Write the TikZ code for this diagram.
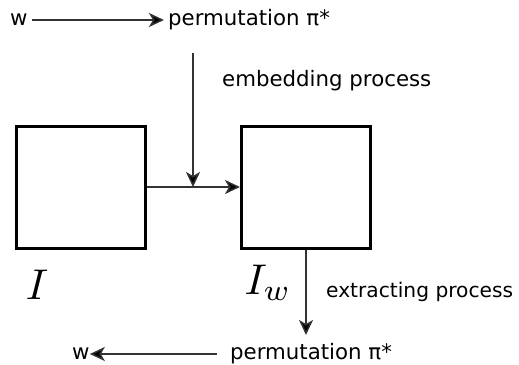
\documentclass[tikz,border=0pt]{standalone}
\usepackage{fontspec}
\setmainfont{DejaVu Sans}
\usetikzlibrary{arrows.meta, positioning}

\begin{document}
\fontsize{21.3}{25}\selectfont
\begin{tikzpicture}[
        x=1pt, y=-1pt,
        imgbox/.style={draw, line width=3pt, minimum width=129pt,
            minimum height=122pt, inner sep=0pt},
        lbl/.style={inner xsep=4pt, inner ysep=2pt},
        symlbl/.style={font=\normalsize, scale=4.3, inner sep=0pt},
        arr/.style={draw=black!80, line width=1.5pt,
            -{Stealth[length=15pt, width=14pt, inset=4pt, fill=black]}},
    ]
    \useasboundingbox (0,0) rectangle (519,364);

    % cover image and marked image
    \node[imgbox] (host) at (81,187) {};
    \node[imgbox] (marked) at (306,187) {};
    \node[symlbl] (hostlbl) at (37,285) {$I$};
    \node[symlbl] (markedlbl) at (268,283) {$I_w$};

    % embedding side
    \node[lbl, anchor=mid west] (wtop) at (6,20) {w};
    \node[lbl, anchor=mid west] (permtop) at (164,20) {permutation π*};
    \node[lbl, anchor=mid west] (embed) at (218,81) {embedding process};
    \coordinate (embstart) at (193,53);

    \draw[arr] (wtop.mid east) -- (permtop.mid west);
    \draw[arr] (embstart) -- (embstart |- host.east);
    \draw[arr] (host) -- (marked);

    % extracting side
    \node[lbl, font=\fontsize{20.2}{24}\selectfont, anchor=mid west]
        (extract) at (322,292) {extracting process};
    \node[lbl, anchor=mid west] (permbot) at (226,354) {permutation π*};
    \node[lbl, anchor=mid west] (wbot) at (68,354) {w};
    \coordinate (extend) at (306,335);

    \draw[arr] (marked.south) -- (extend);
    \draw[arr, shorten <=9pt, shorten >=-4pt] (permbot.mid west) -- (wbot.mid east);
\end{tikzpicture}
\end{document}
